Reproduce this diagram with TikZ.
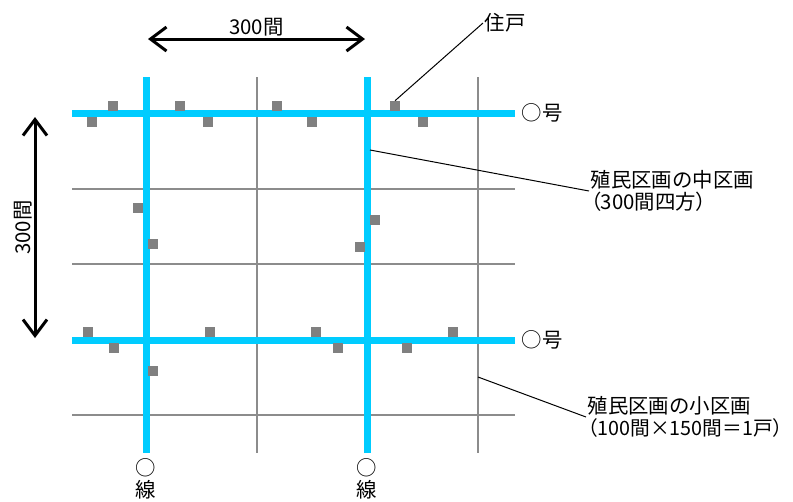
\documentclass[tikz,border=0pt]{standalone}
\usepackage{fontspec}
\setmainfont{Noto Sans CJK JP}
\newfontfamily\pfont[RawFeature=+palt]{Noto Sans CJK JP}
\usepackage{xcolor}
\usepackage{tikz}
\usetikzlibrary{positioning, arrows.meta}
\definecolor{roadcolor}{RGB}{0,204,255}
\definecolor{housecolor}{RGB}{128,128,128}
\definecolor{gridcolor}{RGB}{140,140,140}

\begin{document}
\begin{tikzpicture}[
    x=0.75pt, y=-0.75pt,
    node distance=3pt,
    lotline/.style={
        draw=gridcolor,
        line width=0.8pt
    },
    road/.style={
        draw=roadcolor,
        line width=5.25pt
    },
    house/.style={
        rectangle,
        fill=housecolor,
        minimum size=7.5pt,
        inner sep=0pt
    },
    txt/.style={
        font=\fontsize{15.3pt}{17pt}\selectfont,
        inner sep=1pt,
        align=left
    },
    leader/.style={
        draw=black,
        line width=0.75pt
    },
    dimarrow/.style={
        <->,
        >={Straight Barb[length=12pt, width=18pt]},
        line width=2.25pt
    }
]

\useasboundingbox (0,0) rectangle (793,501);

% Lot lines
\foreach \gx in {257,478}
    \draw[lotline] (\gx,77) -- (\gx,453);
\foreach \gy in {189,264,415}
    \draw[lotline] (72,\gy) -- (515,\gy);

% Roads
\draw[road] (72,113) -- (515,113) coordinate (roadN);
\draw[road] (72,340) -- (515,340) coordinate (roadS);
\draw[road] (146,77) -- (146,453) coordinate (roadW);
\draw[road] (367,77) -- (367,453) coordinate (roadE);

% Houses
\foreach \hx/\hy [count=\i] in {113/106, 92/122, 180/106, 208/122, 277/106,
        312/122, 395/106, 423/122, 138/208, 153/244, 375/220, 360/247,
        88/332, 114/348, 210/332, 316/332, 338/348, 407/348, 453/332, 153/371}
    \node[house] (h\i) at (\hx,\hy) {};

% Road names
\node[txt, right=4pt of roadN] (gouN) {○号};
\node[txt, right=4pt of roadS] (gouS) {○号};
\node[txt, below=3pt of roadW] (circW) {○};
\node[txt, below=0pt of circW] (senW) {線};
\node[txt, below=3pt of roadE] (circE) {○};
\node[txt, below=0pt of circE] (senE) {線};

% Dimensions
\coordinate (dimL) at (148,39);
\coordinate (dimR) at (365,39);
\draw[dimarrow] (dimL) -- (dimR) node[midway, txt, above] (dimH) {300間};
\coordinate (dimB) at (35,338);
\coordinate (dimT) at (35,117);
\draw[dimarrow] (dimB) -- (dimT) node[midway, txt, rotate=90, above] (dimV) {300間};

% Callouts
\node[txt, anchor=west] (jyuko) at (483,23) {住戸};
\draw[leader] (h7.north) -- (jyuko.west);

\coordinate (midpt) at (370,150);
\node[txt, anchor=west] (midlot) at (589,191) {殖民区画の中区画\\{\pfont（300間四方）}};
\draw[leader] (midpt) -- (midlot.west);

\coordinate (smallpt) at (478,377);
\node[txt, anchor=west] (smalllot) at (586,417) {殖民区画の小区画\\{\pfont\fontsize{14.8pt}{17pt}\selectfont（100間×150間＝1戸）}};
\draw[leader] (smallpt) -- (smalllot.west);

\end{tikzpicture}
\end{document}
